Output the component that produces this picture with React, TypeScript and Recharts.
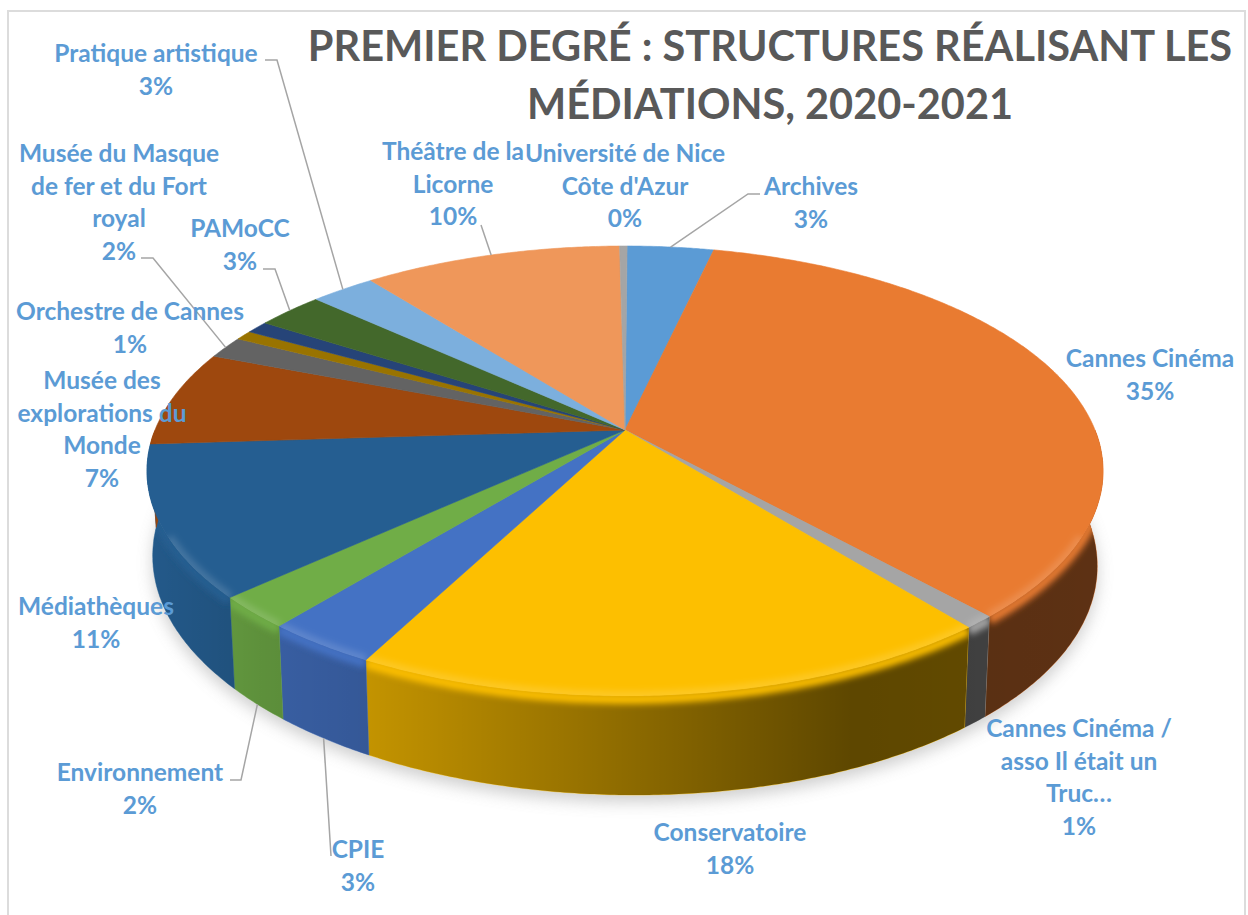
import React from "react";
import { PieChart, Pie, Cell } from "recharts";

const titleLines = ["PREMIER DEGRÉ : STRUCTURES RÉALISANT LES", "MÉDIATIONS, 2020-2021"];

const categoryLines = [
  ["Archives"],
  ["Cannes Cinéma"],
  ["Cannes Cinéma /", "asso Il était un", "Truc…"],
  ["Conservatoire"],
  ["CPIE"],
  ["Environnement"],
  ["Médiathèques"],
  ["Musée des", "explorations du", "Monde"],
  ["Musée du Masque", "de fer et du Fort", "royal"],
  ["Orchestre de Cannes"],
  [],
  ["PAMoCC"],
  ["Pratique artistique"],
  ["Théâtre de la", "Licorne"],
  ["Université de Nice", "Côte d'Azur"],
];
const shares = [3.49, 34.75, 0.9, 18.45, 3.25, 2.3, 10.8, 6.9, 1.6, 0.7, 0.9, 2.7, 2.6, 10.4, 0.3];

const topColors = ["#5B9BD5", "#E97B31", "#A5A5A5", "#FDBF00", "#4472C4", "#70AD47", "#255E91", "#9E480E", "#636363", "#997300", "#264478", "#43682B", "#7CAFDD", "#EF975A", "#A5A5A5"];

// label block: centre x, baseline of first line
const labelSpots: [number, number][] = [
  [811, 195], [1150, 367], [1079, 737], [730, 841], [358, 858], [140, 781], [96, 615], [102, 389],
  [119, 162], [130, 320], [0, 0], [240, 237], [156, 62], [453, 160], [625, 162],
];
// leader line knees, the last point is taken from the slice itself
const leaders: ([number, number][] | null)[] = [
  [[760, 194], [748, 194]], null, null, null, [[331, 856]], [[230, 780], [241, 780]], null, null,
  [[141, 258], [153, 258]], null, null, [[263, 269], [275, 269]], [[265, 60], [277, 60]], [[481, 225]], null,
];

const table = categoryLines.map((lines, i) => ({ name: lines.join(" "), value: shares[i] }));

const WIDTH = 1248;
const HEIGHT = 915;
const CX = 625;
const CY = 430;
const RADIUS = 470;
const TILT = 217.5;
const PERSP = 0.1822;
const START = 89.7;
const FONT = "Lato, sans-serif";

// perspective view of the flat disc
const rim = (deg: number) => {
  const a = (deg * Math.PI) / 180;
  const u = Math.cos(a);
  const v = -Math.sin(a);
  const w = 1 - PERSP * v;
  return { x: CX + (RADIUS * u) / w, y: CY + (TILT * v) / w, v };
};
const floor = (p: { x: number; y: number; v: number }) => ({
  x: CX + (p.x - CX) * 0.988,
  y: p.y + 88 + 11 * p.v + (5 * (p.x - CX)) / RADIUS,
  v: p.v,
});
const arc = (from: number, to: number) => {
  const n = Math.max(2, Math.ceil(Math.abs(to - from) * 2));
  return Array.from({ length: n + 1 }, (_, i) => rim(from + ((to - from) * i) / n));
};
const toPath = (pts: { x: number; y: number }[]) =>
  pts.map((p, i) => `${i ? "L" : "M"}${p.x.toFixed(1)} ${p.y.toFixed(1)}`).join(" ");

const TopFace = (props: any) => {
  const pts = arc(props.startAngle, props.endAngle);
  const d = `M${CX} ${CY} ${toPath(pts).replace("M", "L")} Z`;
  const front = pts.filter((p) => p.v >= 0.45);
  const id = `top-${props.index}`;
  return (
    <g>
      <clipPath id={id}>
        <path d={d} />
      </clipPath>
      <path d={d} fill={props.fill} stroke={props.fill} strokeWidth={0.6} />
      {front.length > 1 && (
        <g clipPath={`url(#${id})`}>
          <path d={toPath(front)} fill="none" stroke="#fff" strokeOpacity={0.14} strokeWidth={10} filter="url(#soft)" />
        </g>
      )}
    </g>
  );
};

const WallFace = (props: any) => {
  const pts = arc(props.startAngle, props.endAngle).filter((p) => p.v >= 0);
  if (pts.length < 2) return <g />;
  const d = `${toPath(pts)} ${toPath(pts.map(floor).reverse()).replace("M", "L")} Z`;
  const band = toPath(pts.map((p) => ({ x: p.x, y: p.y + 3 })));
  const id = `wall-${props.index}`;
  return (
    <g>
      <clipPath id={id}>
        <path d={d} />
      </clipPath>
      <path d={d} fill={props.fill} stroke={props.fill} strokeWidth={0.5} />
      <path d={d} fill="url(#wallShade)" />
      <g clipPath={`url(#${id})`}>
        <path d={band} fill="none" stroke={props.fill} strokeWidth={10} filter="url(#soft)" />
      </g>
    </g>
  );
};

const renderLabel = (p: any) => {
  const lines = categoryLines[p.index];
  if (!lines.length) return <g />;
  const [x, y] = labelSpots[p.index];
  const knees = leaders[p.index];
  const end = rim(p.midAngle);
  const tip = end.v > 0 ? floor(end) : end;
  return (
    <g>
      {knees && (
        <polyline
          points={[...knees, [tip.x, tip.y]].map((k) => k.join(",")).join(" ")}
          fill="none"
          stroke="#A5A5A5"
          strokeWidth={1.5}
        />
      )}
      <text x={x} y={y} textAnchor="middle" fontFamily={FONT} fontWeight={700} fontSize={24.5} fill="#5B9BD5">
        {lines.map((line, i) => (
          <tspan key={i} x={x} dy={i ? 32.5 : 0}>{line}</tspan>
        ))}
        <tspan x={x} dy={32.5}>{Math.round(p.percent * 100)}%</tspan>
      </text>
    </g>
  );
};

export default function App() {
  const outline = toPath(arc(0, 360).map(floor));
  return (
    <div style={{ position: "absolute", left: 0, top: 0, width: WIDTH, height: HEIGHT, overflow: "hidden", background: "#fff" }}>
      <div style={{ position: "absolute", left: 7, top: 10, width: 1235, height: 920, border: "2px solid #DCDCDC" }} />
      <div style={{ position: "absolute", left: 0, top: 0 }}>
        <PieChart width={WIDTH} height={HEIGHT} margin={{ top: 0, right: 0, bottom: 0, left: 0 }}>
          <defs>
            <linearGradient id="wallShade" gradientUnits="userSpaceOnUse" x1="150" y1="0" x2="1100" y2="0">
              <stop offset="0" stopColor="#000" stopOpacity={0.05} />
              <stop offset="0.12" stopColor="#000" stopOpacity={0.17} />
              <stop offset="0.23" stopColor="#000" stopOpacity={0.23} />
              <stop offset="0.5" stopColor="#000" stopOpacity={0.44} />
              <stop offset="0.74" stopColor="#000" stopOpacity={0.63} />
              <stop offset="1" stopColor="#000" stopOpacity={0.6} />
            </linearGradient>
            <filter id="soft" filterUnits="userSpaceOnUse" x="0" y="0" width={WIDTH} height={HEIGHT}>
              <feGaussianBlur stdDeviation={3} />
            </filter>
            <filter id="shadow" filterUnits="userSpaceOnUse" x="0" y="0" width={WIDTH} height={HEIGHT}>
              <feGaussianBlur stdDeviation={8} />
            </filter>
          </defs>
          <path d={outline} transform="translate(0 7)" fill="#8A8A8A" opacity={0.42} filter="url(#shadow)" />
          {titleLines.map((line, i) => (
            <text key={line} x={770} y={61 + i * 58} textAnchor="middle" fontFamily={FONT} fontWeight={700} fontSize={41.5} fill="#595959">
              {line}
            </text>
          ))}
          <Pie
            data={table}
            dataKey="value"
            nameKey="name"
            cx={CX}
            cy={CY}
            outerRadius={RADIUS}
            startAngle={START}
            endAngle={START - 360}
            shape={WallFace}
            stroke="none"
            isAnimationActive={false}
          >
            {table.map((row, i) => (
              <Cell key={row.name + i} fill={topColors[i]} />
            ))}
          </Pie>
          <Pie
            data={table}
            dataKey="value"
            nameKey="name"
            cx={CX}
            cy={CY}
            outerRadius={RADIUS}
            startAngle={START}
            endAngle={START - 360}
            shape={TopFace}
            stroke="none"
            label={renderLabel}
            labelLine={false}
            isAnimationActive={false}
          >
            {table.map((row, i) => (
              <Cell key={row.name + i} fill={topColors[i]} />
            ))}
          </Pie>
        </PieChart>
      </div>
    </div>
  );
}
